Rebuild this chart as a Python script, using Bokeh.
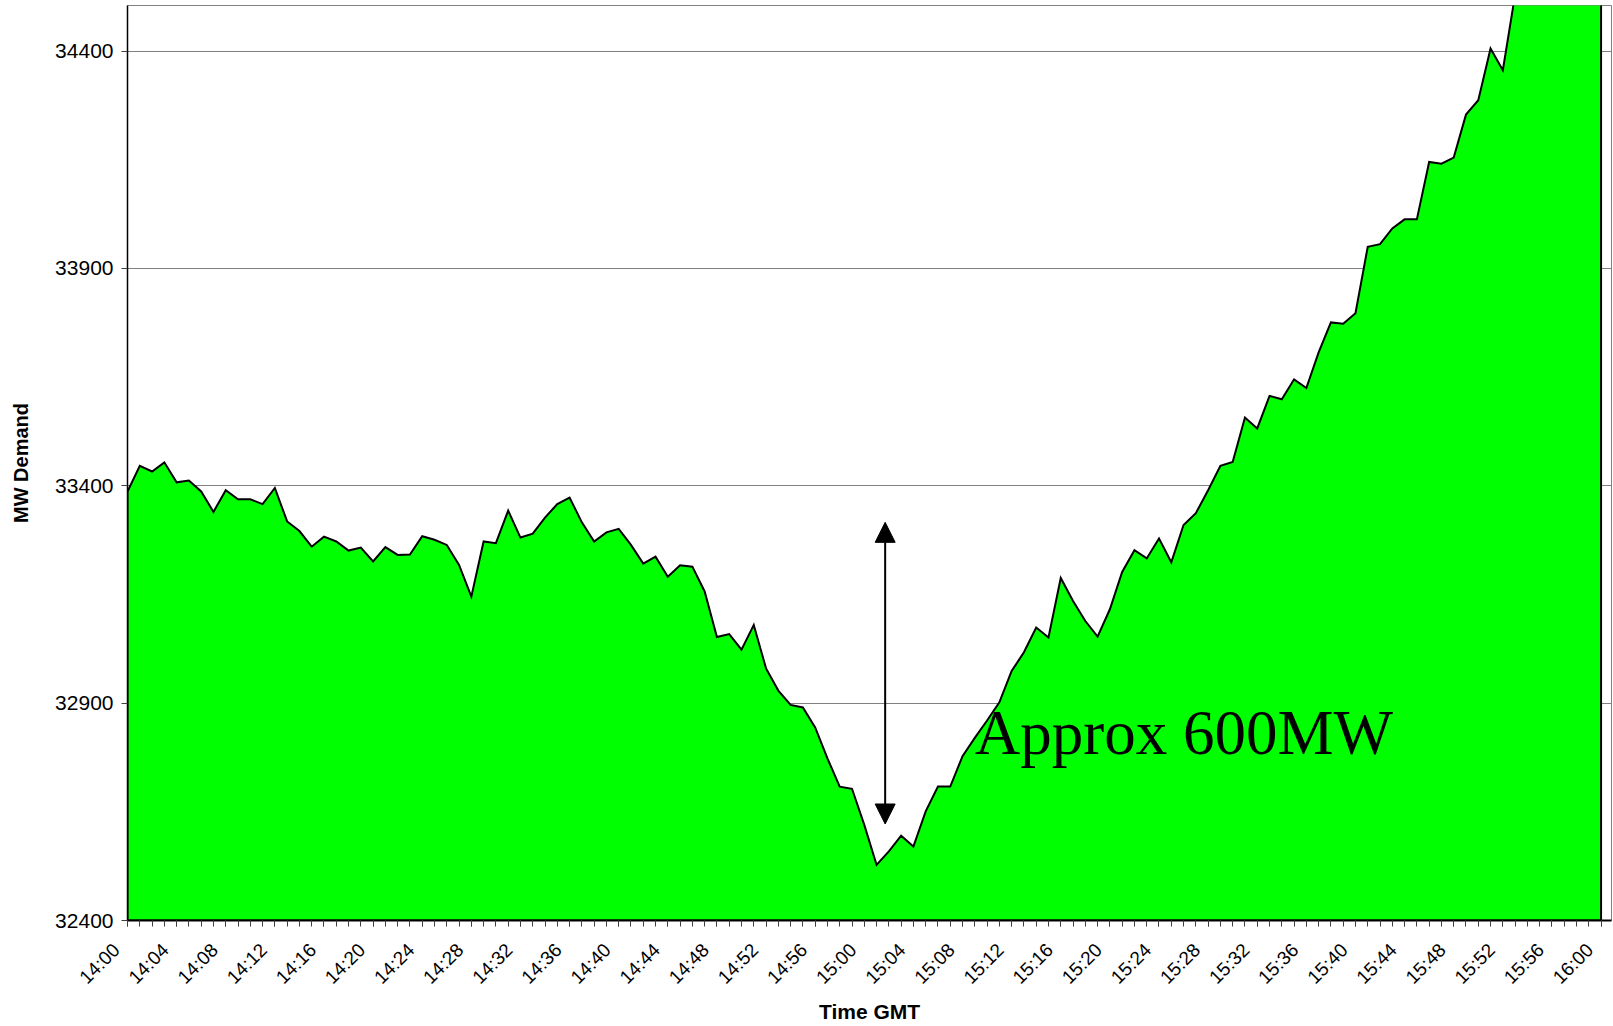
import math
from bokeh.plotting import figure
from bokeh.models import Range1d, FixedTicker, Arrow, NormalHead, Label
from bokeh.embed import file_html
from bokeh.resources import INLINE

# minutes after 14:00 GMT
minutes = list(range(121))

# MW demand, one value per minute (14:00 .. 16:00)
demand = [
    33387, 33446, 33433, 33454, 33408, 33412, 33387, 33340, 33390, 33369,
    33369, 33358, 33395, 33318, 33296, 33260, 33283, 33272, 33251, 33258,
    33226, 33259, 33241, 33242, 33284, 33276, 33264, 33218, 33145, 33272,
    33268, 33343, 33281, 33290, 33327, 33358, 33373, 33316, 33272, 33293,
    33301, 33264, 33221, 33237, 33191, 33217, 33214, 33157, 33052, 33059,
    33023, 33080, 32980, 32929, 32896, 32890, 32844, 32773, 32708, 32703,
    32620, 32528, 32559, 32595, 32570, 32651, 32708, 32708, 32778, 32820,
    32860, 32902, 32974, 33017, 33074, 33051, 33188, 33135, 33089, 33053,
    33116, 33202, 33252, 33233, 33279, 33224, 33310, 33337, 33390, 33446,
    33455, 33557, 33532, 33607, 33599, 33645, 33625, 33707, 33776, 33773,
    33797, 33950, 33956, 33992, 34013, 34013, 34145, 34141, 34155, 34254,
    34287, 34406, 34356, 34530, 34580, 34620, 34660, 34700, 34740, 34770,
    34800,
]

# x tick labels (every 4 minutes)
tick_minutes = [0, 4, 8, 12, 16, 20, 24, 28, 32, 36, 40, 44, 48, 52, 56, 60,
                64, 68, 72, 76, 80, 84, 88, 92, 96, 100, 104, 108, 112, 116, 120]
tick_labels = ["14:00", "14:04", "14:08", "14:12", "14:16", "14:20", "14:24",
               "14:28", "14:32", "14:36", "14:40", "14:44", "14:48", "14:52",
               "14:56", "15:00", "15:04", "15:08", "15:12", "15:16", "15:20",
               "15:24", "15:28", "15:32", "15:36", "15:40", "15:44", "15:48",
               "15:52", "15:56", "16:00"]

# y ticks
y_ticks = [32400, 32900, 33400, 33900, 34400]

# annotation: arrow spanning the dip (minute, MW)
arrow_minute = 61.7
arrow_top = 33316
arrow_bottom = 32622
note_text = "Approx 600MW"
note_minute = 69.0
note_mw = 32832

x_title = "Time GMT"
y_title = "MW Demand"

FONT = "Liberation Sans"
X_END = 120.85

p = figure(width=1612, height=1026, output_backend="svg", toolbar_location=None,
           x_range=Range1d(0, X_END), y_range=Range1d(32400, 34505),
           min_border_left=127, min_border_right=1, min_border_top=5,
           min_border_bottom=106)
p.background_fill_color = "white"
p.border_fill_color = "white"
p.outline_line_color = "#808080"
p.outline_line_width = 1

# area
xs = minutes + [minutes[-1], minutes[0]]
ys = demand + [y_ticks[0], y_ticks[0]]
p.patch(x=xs, y=ys, fill_color="#00FF00", line_color="black", line_width=2,
        line_join="miter")

# x axis (labels end a little before the tick, as in the original)
pad = "\u00a0\u00a0\u00a0"
p.xaxis.ticker = FixedTicker(ticks=tick_minutes, minor_ticks=minutes)
p.xaxis.major_label_overrides = {m: l + pad for m, l in zip(tick_minutes, tick_labels)}
p.xaxis.major_label_orientation = math.pi / 4
p.xaxis.axis_line_color = "black"
p.xaxis.axis_line_width = 2
p.xaxis.major_tick_in = 0
p.xaxis.major_tick_out = 6
p.xaxis.minor_tick_in = 0
p.xaxis.minor_tick_out = 6
p.xaxis.major_tick_line_color = "#404040"
p.xaxis.minor_tick_line_color = "#404040"
p.xaxis.major_label_text_font = FONT
p.xaxis.major_label_text_font_size = "19px"
p.xaxis.major_label_text_color = "black"
p.xaxis.major_label_standoff = 9
p.xaxis.axis_label = x_title
p.xaxis.axis_label_text_font = FONT
p.xaxis.axis_label_text_font_size = "21px"
p.xaxis.axis_label_text_font_style = "bold"
p.xaxis.axis_label_text_color = "black"
p.xaxis.axis_label_standoff = 2

# y axis
p.yaxis.ticker = FixedTicker(ticks=y_ticks, minor_ticks=[])
p.yaxis.axis_line_color = "black"
p.yaxis.axis_line_width = 1.5
p.yaxis.major_tick_in = 0
p.yaxis.major_tick_out = 6
p.yaxis.major_tick_line_color = "#404040"
p.yaxis.minor_tick_line_color = None
p.yaxis.major_label_text_font = FONT
p.yaxis.major_label_text_font_size = "21px"
p.yaxis.major_label_text_color = "black"
p.yaxis.major_label_standoff = 8
p.yaxis.axis_label = y_title
p.yaxis.axis_label_text_font = FONT
p.yaxis.axis_label_text_font_size = "20px"
p.yaxis.axis_label_text_font_style = "bold"
p.yaxis.axis_label_text_color = "black"
p.yaxis.axis_label_standoff = 20

# grid
p.xgrid.visible = False
p.ygrid.ticker = FixedTicker(ticks=y_ticks[1:], minor_ticks=[])
p.ygrid.grid_line_color = "#808080"
p.ygrid.grid_line_width = 1
p.ygrid.level = "underlay"

# arrow
p.add_layout(Arrow(
    start=NormalHead(size=20, fill_color="black", line_color="black"),
    end=NormalHead(size=20, fill_color="black", line_color="black"),
    x_start=arrow_minute, y_start=arrow_bottom,
    x_end=arrow_minute, y_end=arrow_top,
    line_color="black", line_width=2))

p.add_layout(Label(x=note_minute, y=note_mw, text=note_text,
                   text_font="Liberation Serif", text_font_size="63px",
                   text_baseline="alphabetic", text_align="left",
                   text_color="black"))

open("out.html", "w").write(file_html(p, INLINE))
